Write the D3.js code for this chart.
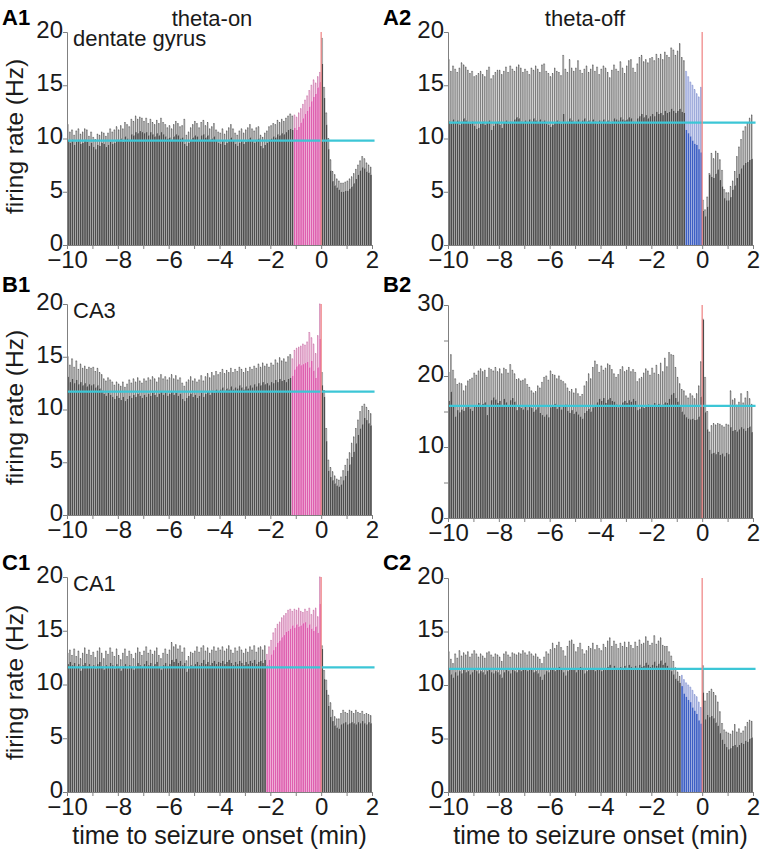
<!DOCTYPE html>
<html><head><meta charset="utf-8">
<script src="https://cdn.jsdelivr.net/npm/d3@7"></script>
<style>body{margin:0;background:#fff;} svg{display:block;font-family:"Liberation Sans",Arial,sans-serif;}</style>
</head><body><svg id="c" width="766" height="853"></svg>
<script>
// ---------------- DATA ----------------
// 5-s bins from -600 s to +120 s (144 bins)
const binStarts = d3.range(-600, 120, 5);
const xTickValues = [-10,-9,-8,-7,-6,-5,-4,-3,-2,-1,0,1,2];
const xTickLabels = [-10,-8,-6,-4,-2,0,2];
const columnTitles = ["theta-on", "theta-off"];
const regionNames = ["dentate gyrus", "CA3", "CA1"];
const panelLabels = ["A1","A2","B1","B2","C1","C2"];
const yTicks20 = [0,5,10,15,20];
const yLabels20 = [0,5,10,15,20];
const yTicks30 = [0,5,10,15,20,25,30];
const yLabels30 = [0,10,20,30];

const a1Mean = [
9.8,9.6,9.9,9.4,9.7,9.9,9.5,9.6,9.9,9.7,9.3,9.6,
9.2,9.0,9.4,9.3,9.6,9.5,9.2,9.4,9.7,9.5,9.6,9.9,
9.8,10.0,9.7,10.2,10.0,9.9,10.4,10.3,10.6,10.5,10.7,10.6,
10.5,10.6,10.3,10.6,10.4,10.2,10.5,10.3,10.6,10.4,10.2,10.0,
10.1,9.9,10.2,10.4,10.3,10.0,10.1,9.5,9.3,9.6,9.9,10.1,
10.3,10.2,9.9,10.3,10.4,10.1,10.3,9.9,10.0,10.2,9.8,9.6,
9.5,9.8,9.4,9.6,9.9,10.1,9.8,9.5,9.3,9.6,9.8,9.5,
9.7,9.9,10.1,9.8,9.6,9.9,10.0,9.3,9.1,9.4,9.6,9.9,
10.0,10.2,10.1,10.4,10.3,10.5,10.4,10.6,10.8,10.9,10.8,11.0,
10.8,11.1,11.5,11.9,12.3,12.6,13.0,13.5,13.9,14.2,14.8,15.3,
17.0,13.8,11.3,9.0,7.0,6.0,5.6,5.4,5.2,5.0,5.0,5.1,
5.1,5.3,5.5,5.8,6.2,6.6,7.0,7.3,7.2,6.9,6.8,6.6];
const a1Upper = [
11.3,10.6,10.8,10.3,10.7,10.9,10.4,10.6,10.9,10.8,10.2,10.6,
10.1,9.9,10.4,10.3,10.6,10.5,10.2,10.5,10.9,10.6,10.8,11.1,
10.8,11.2,10.9,11.5,11.3,11.1,11.8,11.6,12.1,11.8,12.0,11.9,
11.6,11.9,11.4,11.8,11.5,11.3,11.7,11.4,11.9,11.5,11.3,11.0,
11.2,10.9,11.3,11.6,11.4,11.1,11.2,11.8,10.3,10.6,11.0,11.3,
11.6,11.4,11.0,11.5,11.7,11.2,11.5,10.9,11.1,11.4,10.8,10.6,
10.5,10.9,10.4,10.7,11.0,11.3,10.9,10.5,10.3,10.7,10.9,10.5,
10.8,11.0,11.3,10.9,10.7,11.0,11.1,10.3,10.1,10.5,10.7,11.1,
11.2,11.4,11.3,11.7,11.5,11.8,11.6,11.9,12.1,12.3,12.1,12.2,
12.0,12.4,12.8,13.2,13.6,14.0,14.5,15.0,15.5,15.2,15.8,16.2,
19.4,14.8,12.4,10.0,8.0,6.9,6.6,6.2,6.0,5.8,5.8,5.9,
6.0,6.2,6.4,6.7,7.1,7.5,7.9,8.3,8.1,7.7,7.5,7.3];
const a1Baseline = 9.8;
const a1SigStart = -65;   // s, increase before onset

const a2Mean = [
11.6,11.4,11.8,11.5,11.7,11.3,11.6,11.9,11.7,11.5,11.4,11.6,
11.2,10.9,11.0,11.4,11.6,11.3,11.5,11.7,10.8,11.2,11.5,11.6,
11.3,11.0,11.5,11.7,11.4,11.6,11.5,11.8,12.0,11.9,11.6,11.5,
11.7,11.5,11.8,11.6,11.9,11.7,11.5,11.8,11.6,11.7,11.4,11.3,
11.1,11.3,11.5,11.7,11.6,11.4,12.3,11.5,11.6,11.9,11.7,11.5,
11.6,11.8,11.5,11.7,11.9,11.6,11.7,11.5,11.8,11.6,11.4,11.7,
11.6,11.8,11.5,11.7,11.4,11.6,11.9,11.8,11.7,12.0,11.8,11.7,
11.8,12.0,11.9,11.6,11.5,11.9,12.1,12.3,12.0,12.2,11.9,12.1,
12.3,12.1,12.5,12.3,12.4,12.2,12.6,12.4,12.5,12.8,12.6,12.4,
12.6,12.8,12.5,12.4,10.8,10.5,10.2,9.8,9.5,9.4,9.0,8.7,
3.2,2.7,3.6,6.6,6.4,6.3,6.7,7.1,6.1,5.5,4.4,4.2,
4.2,4.5,5.2,5.6,6.3,6.7,7.2,7.5,7.7,7.8,8.0,8.1];
const a2Upper = [
17.4,16.3,16.8,16.5,16.2,16.6,17.1,16.9,16.7,16.4,16.1,16.3,
15.8,15.9,16.1,16.3,16.0,15.8,16.4,16.7,15.6,15.9,16.2,16.4,
16.4,16.0,16.3,16.7,16.2,16.8,16.5,16.3,16.7,16.9,16.6,16.2,
16.5,16.3,16.0,16.6,16.4,16.8,16.5,16.2,16.9,17.0,16.3,16.1,
15.8,16.1,16.6,16.3,16.2,15.9,17.8,16.5,16.2,17.4,16.6,16.3,
16.6,17.3,16.4,16.1,16.5,16.8,16.2,16.5,16.9,16.3,16.7,16.0,
16.5,16.8,16.6,16.2,15.7,16.4,16.9,16.5,16.3,17.2,16.6,16.1,
16.8,17.3,17.4,16.6,16.2,17.0,17.6,17.8,17.2,17.4,17.1,17.5,
17.6,17.3,17.9,17.5,17.9,17.4,18.1,17.8,17.6,18.5,18.3,17.8,
18.2,18.9,17.6,17.3,16.3,15.8,15.3,15.0,14.6,14.2,13.9,14.8,
4.2,3.3,4.5,6.7,8.6,8.1,8.8,8.6,8.0,7.0,5.2,4.9,
4.9,5.5,6.0,6.9,8.3,9.2,9.9,10.7,11.1,11.4,11.9,12.2];
const a2Baseline = 11.5;
const a2SigStart = -40;   // s, decrease before onset

const b1Mean = [
13.1,12.6,12.9,12.5,12.8,12.4,12.6,12.3,12.5,12.2,12.4,12.3,
12.4,12.1,12.3,12.0,11.8,11.5,11.3,11.6,11.4,11.2,11.0,11.3,
11.1,10.9,11.2,10.8,11.0,11.3,11.1,11.4,11.2,11.5,11.3,11.1,
11.4,11.2,11.5,11.3,11.6,11.4,11.2,11.5,11.7,11.4,11.6,11.3,
11.5,11.7,11.4,11.6,11.3,11.5,11.0,10.8,11.1,11.3,11.5,11.2,
11.4,11.1,11.3,11.6,11.2,11.5,11.7,11.4,11.8,11.6,11.9,11.7,
11.9,12.1,11.8,12.0,11.9,12.2,11.9,12.1,12.0,12.3,12.1,11.9,
12.2,12.0,12.3,12.1,12.4,12.2,12.5,12.3,12.6,12.4,12.5,12.3,
12.6,12.5,12.8,12.6,12.9,12.7,12.8,12.6,12.9,13.0,13.2,13.8,
14.1,14.3,14.2,14.3,14.4,14.5,14.0,14.6,13.7,13.0,14.0,16.7,
12.3,11.2,7.0,4.2,3.6,3.3,3.0,2.8,2.7,2.9,3.3,3.7,
4.2,4.8,5.5,6.0,6.8,7.6,8.2,8.6,9.2,9.0,8.7,8.5];
const b1Upper = [
15.0,14.2,14.8,14.0,14.6,13.8,14.3,13.9,14.1,13.8,14.0,13.9,
14.0,13.6,13.9,13.5,13.3,12.9,12.7,13.0,12.8,12.6,12.3,12.6,
12.4,12.2,12.6,12.1,12.4,12.8,12.5,12.9,12.6,13.0,12.7,12.5,
12.9,12.7,13.0,12.8,13.1,12.9,12.6,13.0,13.3,12.9,13.1,12.8,
13.0,13.3,12.9,13.2,12.8,13.0,12.5,12.2,12.6,12.8,13.1,12.7,
12.9,12.6,12.8,13.2,12.7,13.1,13.4,13.0,13.5,13.2,13.6,13.3,
13.5,13.8,13.4,13.7,13.5,13.9,13.5,13.8,13.6,14.0,13.8,13.5,
13.9,13.6,14.0,13.8,14.1,13.9,14.3,14.0,14.4,14.1,14.3,14.0,
14.4,14.2,14.7,14.4,14.9,14.6,14.8,14.5,15.0,15.2,14.8,15.6,
15.8,15.9,16.0,16.2,16.1,16.4,17.3,16.8,16.2,15.3,17.0,20.0,
13.5,11.8,8.2,5.2,4.5,4.1,3.7,3.4,3.3,3.6,4.2,4.7,
5.3,5.9,6.8,7.4,8.2,9.0,9.8,10.3,10.5,10.2,9.9,9.6];
const b1Baseline = 11.7;
const b1SigStart = -70;

const b2Mean = [
16.5,17.8,15.9,14.3,15.2,14.9,15.3,15.1,15.6,15.8,15.4,15.1,
15.7,15.9,16.2,15.8,16.1,16.3,14.5,15.8,16.6,17.0,16.7,16.2,
16.5,15.9,16.8,16.3,15.7,16.6,16.9,16.4,15.2,15.8,15.5,15.3,
15.7,15.2,15.9,15.5,15.0,15.3,15.6,14.8,14.5,14.3,14.6,14.2,
15.6,15.9,16.1,15.4,15.7,15.3,15.8,16.0,15.1,14.8,15.2,14.7,
15.0,14.6,14.3,14.0,14.8,15.1,15.4,15.0,15.6,15.9,16.3,16.8,
16.5,16.9,16.2,16.7,16.9,16.5,16.4,16.0,15.6,15.9,16.3,16.5,
16.2,16.6,16.4,16.8,16.5,15.2,15.4,15.7,15.5,15.8,16.0,15.7,
15.9,16.2,15.8,16.1,15.7,16.0,16.3,16.2,16.8,17.4,17.6,16.9,
16.4,15.8,15.0,14.6,14.2,14.0,13.9,14.0,13.8,13.9,14.3,17.1,
27.9,14.9,12.5,9.6,9.1,9.2,9.0,9.3,8.9,9.1,8.7,9.2,
9.0,12.8,12.3,12.4,12.2,12.5,12.8,12.6,12.3,12.7,12.9,12.1];
const b2Upper = [
20.5,23.0,20.8,19.6,18.8,19.0,18.9,17.9,18.6,19.3,19.5,19.7,
20.4,20.1,20.7,21.0,20.6,20.8,19.8,21.1,20.9,20.7,21.2,20.6,
21.0,20.3,21.1,20.9,20.4,21.6,20.8,20.3,19.5,19.6,19.3,19.4,
19.6,18.8,18.4,17.9,17.6,17.8,18.6,18.3,19.1,19.8,20.0,19.4,
20.7,20.2,20.1,19.6,20.0,19.4,19.2,18.9,18.3,17.8,18.1,17.6,
18.2,17.5,17.1,17.4,18.6,19.2,20.3,19.6,21.2,22.1,21.6,20.5,
21.4,20.8,21.1,21.7,21.5,20.9,20.3,19.8,20.2,20.9,21.3,20.6,
20.8,21.2,20.6,20.9,20.5,19.2,19.6,19.8,20.4,21.0,20.7,20.1,
21.1,20.4,21.5,20.2,21.8,20.6,22.5,21.3,23.3,23.0,22.9,21.2,
19.8,18.9,18.1,17.9,17.2,16.9,17.5,17.2,16.8,17.5,18.6,22.0,
28.0,19.8,15.0,12.1,13.0,13.3,13.1,13.3,13.2,13.0,12.8,13.2,
13.1,17.9,16.6,16.8,15.9,16.3,17.5,16.2,16.9,17.8,16.8,16.0];
const b2Baseline = 15.8;
const b2SigStart = null;

const c1Mean = [
11.9,12.1,11.8,12.0,11.6,11.9,11.3,11.8,12.0,11.7,11.9,11.6,
11.8,11.5,11.9,12.1,11.7,11.4,11.8,11.6,12.0,11.8,11.5,11.9,
11.6,11.3,11.7,11.9,11.5,11.8,11.6,11.4,11.7,12.0,11.8,11.6,
11.9,12.2,11.8,12.0,11.7,11.9,12.1,11.6,11.4,11.8,12.0,11.7,
11.9,12.3,12.1,12.4,12.0,12.2,11.8,12.0,11.2,11.5,11.8,11.7,
11.9,12.1,11.8,12.0,12.3,11.9,12.1,11.8,12.0,12.2,11.9,12.1,
12.0,12.2,11.9,12.1,12.3,12.0,11.8,12.1,11.9,12.2,12.0,11.8,
12.1,11.9,12.2,12.0,12.3,11.9,12.1,12.2,12.0,12.3,11.8,12.3,
12.8,13.2,13.5,13.9,14.1,14.4,14.6,14.9,15.0,15.2,15.5,15.3,
15.6,15.4,15.5,15.7,15.8,15.3,15.6,15.2,15.0,15.4,14.8,17.5,
13.3,10.5,9.5,8.0,7.0,6.6,6.2,6.0,5.9,6.3,6.4,6.5,
6.3,6.4,6.5,6.4,6.3,6.5,6.4,6.6,6.4,6.3,6.5,6.4];
const c1Upper = [
12.9,13.2,12.7,13.3,12.6,13.1,12.4,12.9,13.4,12.8,13.2,12.7,
13.0,12.5,13.1,13.4,12.9,12.4,13.1,12.8,13.4,13.0,12.6,13.3,
12.7,12.3,12.9,13.3,12.6,13.1,12.8,12.4,12.9,13.4,13.0,12.7,
13.1,13.5,12.9,13.2,12.8,13.1,13.4,12.7,12.4,12.9,13.3,12.8,
13.2,13.9,13.5,13.7,13.3,13.6,13.0,13.4,12.2,12.6,13.0,12.9,
13.1,13.5,13.0,13.4,13.6,13.1,13.4,12.9,13.2,13.5,13.1,13.4,
13.2,13.5,13.1,13.3,13.6,13.2,12.9,13.4,13.1,13.5,13.2,12.9,
13.3,13.0,13.5,13.2,13.6,13.0,13.4,13.5,13.2,13.6,12.8,13.5,
14.1,14.8,15.2,15.6,15.8,16.2,16.4,16.6,16.9,17.0,16.8,17.0,
16.9,17.1,16.8,16.7,17.0,16.8,17.1,16.5,16.9,17.1,16.3,20.0,
13.6,11.3,10.4,9.0,8.3,7.6,7.0,6.8,6.8,7.3,7.6,7.4,
7.3,7.6,7.5,7.3,7.6,7.4,7.3,7.5,7.2,7.3,7.2,7.1];
const c1Baseline = 11.6;
const c1SigStart = -130;

const c2Mean = [
11.4,11.0,10.7,11.2,10.9,11.3,11.1,11.4,11.2,11.3,11.0,11.2,
11.4,11.3,11.1,11.3,11.2,11.0,11.3,11.4,11.2,11.1,11.3,11.2,
11.0,10.7,11.2,11.4,11.3,11.1,11.4,11.3,11.2,11.4,11.3,11.5,
11.4,11.3,11.5,11.4,11.2,11.3,11.1,10.8,10.5,11.0,11.3,11.2,
11.4,11.6,11.3,11.5,11.7,11.4,11.2,10.9,11.3,11.5,11.6,11.4,
11.2,11.5,11.7,11.4,11.1,11.3,11.5,11.4,11.6,11.3,11.5,11.4,
11.3,11.6,11.4,11.7,11.9,11.5,11.8,11.6,11.4,11.7,11.5,11.8,
11.6,11.9,11.7,11.5,11.8,11.6,11.9,11.7,11.8,12.1,11.9,11.7,
11.9,12.2,11.8,12.0,12.3,11.9,12.1,11.8,11.6,11.3,11.0,10.6,
10.4,10.2,9.9,9.2,8.9,8.6,8.4,7.9,7.6,7.3,6.7,6.4,
9.3,6.8,7.2,7.0,7.1,6.9,6.5,6.2,5.5,4.9,4.5,4.2,
4.0,4.1,4.3,4.4,4.2,4.4,4.6,4.5,4.8,4.7,5.0,5.1];
const c2Upper = [
13.1,12.4,12.0,12.9,12.5,13.2,12.7,13.0,12.8,13.1,12.6,12.9,
13.2,12.9,12.6,12.9,12.7,12.5,13.0,13.1,12.8,12.6,12.9,12.8,
12.6,12.2,12.9,13.1,12.8,12.6,13.0,12.9,12.8,13.0,12.9,13.2,
13.0,12.8,13.1,12.9,12.7,12.9,12.6,12.4,12.0,12.6,13.1,12.9,
13.3,13.9,13.4,13.7,14.0,13.5,13.2,12.7,13.6,14.1,14.2,13.8,
13.1,13.5,13.9,13.3,12.9,13.2,13.6,13.4,13.9,13.3,13.7,13.4,
13.2,13.8,13.5,14.1,14.4,13.6,14.1,13.8,13.4,13.9,13.6,14.0,
13.5,14.0,13.7,13.4,14.0,13.6,14.2,13.8,13.9,14.5,14.1,13.7,
13.9,14.6,13.8,14.1,14.4,13.7,13.6,13.6,13.1,12.7,12.2,11.6,
11.2,10.8,10.9,10.5,10.2,10.0,9.8,9.5,9.1,8.9,8.4,7.9,
11.8,8.5,9.2,9.4,9.6,9.3,9.0,8.4,7.5,6.4,5.8,5.6,
5.5,5.4,5.7,6.3,5.6,5.9,5.5,5.7,6.1,6.5,6.7,6.6];
const c2Baseline = 11.5;
const c2SigStart = -50;

// ---------------- LAYOUT / STYLE ----------------
const svg = d3.select("#c");
const FONT = '"Liberation Sans", Arial, sans-serif';
const colX = [67, 448];          // x of -10 min
const pxWidth = 305;             // -10 .. 2 min
const rows = [
  {top:[32,32],  bottom:[245,245], label:25},
  {top:[304,305],bottom:[515,518], label:292},
  {top:[577,578],bottom:[792,792], label:570}
];
const panels = [
  {label:"A1", mean:a1Mean, upper:a1Upper, base:a1Baseline, sig:a1SigStart, kind:"up",   ymax:20, r:0, c:0},
  {label:"A2", mean:a2Mean, upper:a2Upper, base:a2Baseline, sig:a2SigStart, kind:"down", ymax:20, r:0, c:1},
  {label:"B1", mean:b1Mean, upper:b1Upper, base:b1Baseline, sig:b1SigStart, kind:"up",   ymax:20, r:1, c:0},
  {label:"B2", mean:b2Mean, upper:b2Upper, base:b2Baseline, sig:b2SigStart, kind:"none", ymax:30, r:1, c:1},
  {label:"C1", mean:c1Mean, upper:c1Upper, base:c1Baseline, sig:c1SigStart, kind:"up",   ymax:20, r:2, c:0},
  {label:"C2", mean:c2Mean, upper:c2Upper, base:c2Baseline, sig:c2SigStart, kind:"down", ymax:20, r:2, c:1}
];
const colors = {
  bar:"#4d4d4d", err:"#c2c2c2", whisk:"#5a5a5a",
  up:"#de5faf", upErr:"#f1bfdf", upWhisk:"#c77aa8",
  down:"#3d5fc4", downErr:"#b9c3ea", downWhisk:"#8c9ad0",
  cyan:"#3cc6d6", red:"#f08a8a", axis:"#808080", text:"#1a1a1a"
};
const fmt = v => (v < 0 ? "\u2212" + Math.abs(v) : String(v));

panels.forEach(p => {
  const x0 = colX[p.c];
  const yTop = rows[p.r].top[p.c], yBot = rows[p.r].bottom[p.c];
  const x = d3.scaleLinear().domain([-10, 2]).range([x0, x0 + pxWidth]);
  const y = d3.scaleLinear().domain([0, p.ymax]).range([yBot, yTop]);
  const g = svg.append("g");
  const step = x(5/60) - x(0);
  const bw = step * 0.8;
  const data = binStarts.map((t, i) => ({t, m:p.mean[i], u:p.upper[i],
    sig: p.sig !== null && t >= p.sig && t < 0}));
  const errCol = d => d.sig ? (p.kind === "up" ? colors.upErr : colors.downErr) : colors.err;
  const barCol = d => d.sig ? (p.kind === "up" ? colors.up : colors.down) : colors.bar;
  const whCol = d => d.sig ? (p.kind === "up" ? colors.upWhisk : colors.downWhisk) : colors.whisk;

  // error extensions
  g.selectAll(".e").data(data).enter().append("rect")
    .attr("x", d => x(d.t/60) + (step - bw)/2)
    .attr("width", bw)
    .attr("y", d => y(Math.max(d.u, d.m)))
    .attr("height", d => Math.abs(y(d.m) - y(d.u)))
    .attr("fill", errCol);
  // whiskers and caps
  g.selectAll(".w").data(data).enter().append("line")
    .attr("x1", d => x(d.t/60) + step*0.3).attr("x2", d => x(d.t/60) + step*0.3)
    .attr("y1", d => y(d.m)).attr("y2", d => y(d.u))
    .attr("stroke", whCol).attr("stroke-width", 0.7);
  g.selectAll(".cap").data(data).enter().append("line")
    .attr("x1", d => x(d.t/60) + step*0.1).attr("x2", d => x(d.t/60) + step*0.6)
    .attr("y1", d => y(d.u)).attr("y2", d => y(d.u))
    .attr("stroke", whCol).attr("stroke-width", 0.9);
  // bars
  g.selectAll(".b").data(data).enter().append("rect")
    .attr("x", d => x(d.t/60) + (step - bw)/2)
    .attr("width", bw)
    .attr("y", d => y(d.m))
    .attr("height", d => y(0) - y(d.m))
    .attr("fill", barCol);

  // baseline (cyan)
  g.append("line").attr("x1", x(-10)).attr("x2", x(2.1))
    .attr("y1", y(p.base)).attr("y2", y(p.base))
    .attr("stroke", colors.cyan).attr("stroke-width", 2.3);
  // seizure onset line
  g.append("line").attr("x1", x(0)).attr("x2", x(0))
    .attr("y1", y(0)).attr("y2", y(p.ymax))
    .attr("stroke", colors.red).attr("stroke-width", 1.3);

  // axes
  const yAxis = d3.axisLeft(y)
    .tickValues(p.ymax === 30 ? yTicks30 : yTicks20)
    .tickSize(4)
    .tickFormat(v => (p.ymax === 30 ? yLabels30 : yLabels20).includes(v) ? fmt(v) : "");
  const ga = g.append("g").attr("transform", `translate(${x0},0)`).call(yAxis);
  const xAxis = d3.axisBottom(x).tickValues(xTickValues).tickSize(4)
    .tickFormat(v => xTickLabels.includes(v) ? fmt(v) : "");
  const gb = g.append("g").attr("transform", `translate(0,${yBot})`).call(xAxis);
  [ga, gb].forEach(a => {
    a.select(".domain").attr("stroke", colors.axis).attr("stroke-width", 1);
    a.selectAll(".tick line").attr("stroke", colors.axis);
    a.selectAll("text").attr("font-size", 24).attr("fill", colors.text)
      .attr("font-family", FONT);
  });
  ga.selectAll("text").attr("x", -4).attr("dy", "0.22em");
  gb.selectAll("text").attr("y", 4).attr("dy", "0.8em");

  // panel label
  svg.append("text").attr("x", p.c === 0 ? 2 : 383).attr("y", rows[p.r].label)
    .attr("font-size", 22).attr("font-weight", "bold").attr("fill", "#000").text(p.label);
  if (p.c === 0) {
    svg.append("text").attr("x", 73).attr("y", yTop + 14)
      .attr("font-size", 22).attr("fill", colors.text).text(regionNames[p.r]);
    svg.append("text")
      .attr("transform", `translate(23,${(yTop + yBot)/2 - 2}) rotate(-90)`)
      .attr("text-anchor", "middle").attr("font-size", 24.5).attr("fill", colors.text)
      .text("firing rate (Hz)");
  }
  if (p.r === 2) {
    svg.append("text").attr("x", x(-4)).attr("y", 844)
      .attr("text-anchor", "middle").attr("font-size", 25).attr("fill", colors.text)
      .text("time to seizure onset (min)");
  }
  if (p.r === 0) {
    svg.append("text").attr("x", p.c === 0 ? 212 : 585).attr("y", 26)
      .attr("text-anchor", "middle").attr("font-size", 22).attr("fill", colors.text)
      .text(columnTitles[p.c]);
  }
});
</script></body></html>
